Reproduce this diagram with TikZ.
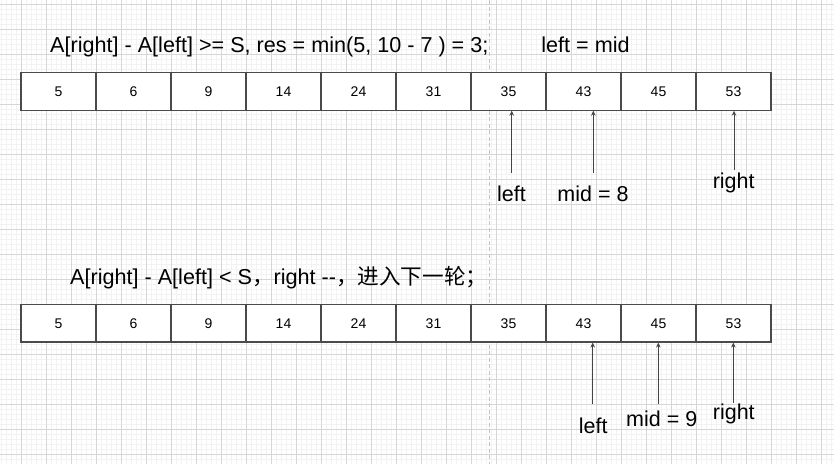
\documentclass[tikz,border=0pt]{standalone}
\usepackage{fontspec}
\setmainfont{Liberation Sans}[Ligatures=TeXOff]
\newfontfamily\cjk{Noto Sans CJK SC}
\usetikzlibrary{arrows.meta}
\definecolor{gridmajor}{HTML}{D6D6D6}
\definecolor{gridminor}{HTML}{F2F2F2}
\definecolor{dashcol}{HTML}{C4C4C4}
\definecolor{cellborder}{HTML}{4A4A4A}
\definecolor{ptrcol}{HTML}{444444}
\tikzset{
  minorline/.style={draw=gridminor, line width=0.8pt},
  majorline/.style={draw=gridmajor, line width=0.9pt},
  divider/.style={draw=dashcol, line width=1pt, dash pattern=on 4pt off 2.5pt},
  cell/.style={draw=cellborder, fill=white, line width=1.2pt, minimum width=75pt, minimum height=37.5pt, inner sep=0pt, text height=10pt, text depth=0pt, font=\fontsize{14}{16}\selectfont},
  titletext/.style={inner sep=0pt, font=\fontsize{21.6}{24}\selectfont},
  lbl/.style={inner sep=0pt, font=\fontsize{21.5}{24}\selectfont},
  ptr/.style={draw=ptrcol, line width=0.9pt, -{Stealth[length=5pt,width=4.5pt]}}
}
\begin{document}
\begin{tikzpicture}[x=1pt,y=-1pt]
\useasboundingbox (0,0) rectangle (834,464);
\fill[white] (0,0) rectangle (834,464);
% grid
\foreach \x in {1.5,6.5,...,834} \draw[minorline] (\x,0) -- (\x,464);
\foreach \y in {4.3,9.3,...,464} \draw[minorline] (0,\y) -- (834,\y);
\foreach \x in {21.5,46.5,...,834} \draw[majorline] (\x,0) -- (\x,464);
\foreach \y in {4.3,29.3,...,464} \draw[majorline] (0,\y) -- (834,\y);
% divider
\coordinate (dtop) at (489,0);
\coordinate (dbot) at (489,464);
\draw[divider] (dtop) -- (dbot);
% titles
\node[titletext, anchor=base west] (title1) at (50,52.3) {A[right] - A[left] >= S, res = min(5, 10 - 7 ) = 3;\hspace{53pt}left = mid};
\node[titletext, anchor=base west] (title2) at (70,284.3) {A[right] - A[left] < S{\cjk ，}right --{\cjk ，进入下一轮；}};
% arrays
\foreach \v [count=\i] in {5,6,9,14,24,31,35,43,45,53} {
  \node[cell] (a\i) at ({21+75*\i-37.5},91.35) {\v};
  \node[cell] (b\i) at ({21+75*\i-37.5},323.2) {\v};
}
% first pointers
\node[lbl, anchor=base] (l1) at (511.5,201) {left};
\node[lbl, anchor=base] (m1) at (593,201) {mid = 8};
\node[lbl, anchor=base] (r1) at (733.7,188.3) {right};
\coordinate (tl1) at (511.7,172.7);
\coordinate (tm1) at (593.3,172.7);
\coordinate (tr1) at (734,170);
\draw[ptr] (tl1) -- (tl1 |- a7.south);
\draw[ptr] (tm1) -- (tm1 |- a8.south);
\draw[ptr] (tr1) -- (tr1 |- a10.south);
% second pointers
\node[lbl, anchor=base] (l2) at (593.2,433.3) {left};
\node[lbl, anchor=base] (m2) at (661.7,426.7) {mid = 9};
\node[lbl, anchor=base] (r2) at (733.8,419.3) {right};
\coordinate (tl2) at (592.7,404.3);
\coordinate (tm2) at (658.3,404.3);
\coordinate (tr2) at (733.3,403.3);
\draw[ptr] (tl2) -- (tl2 |- b8.south);
\draw[ptr] (tm2) -- (tm2 |- b9.south);
\draw[ptr] (tr2) -- (tr2 |- b10.south);
\end{tikzpicture}
\end{document}
